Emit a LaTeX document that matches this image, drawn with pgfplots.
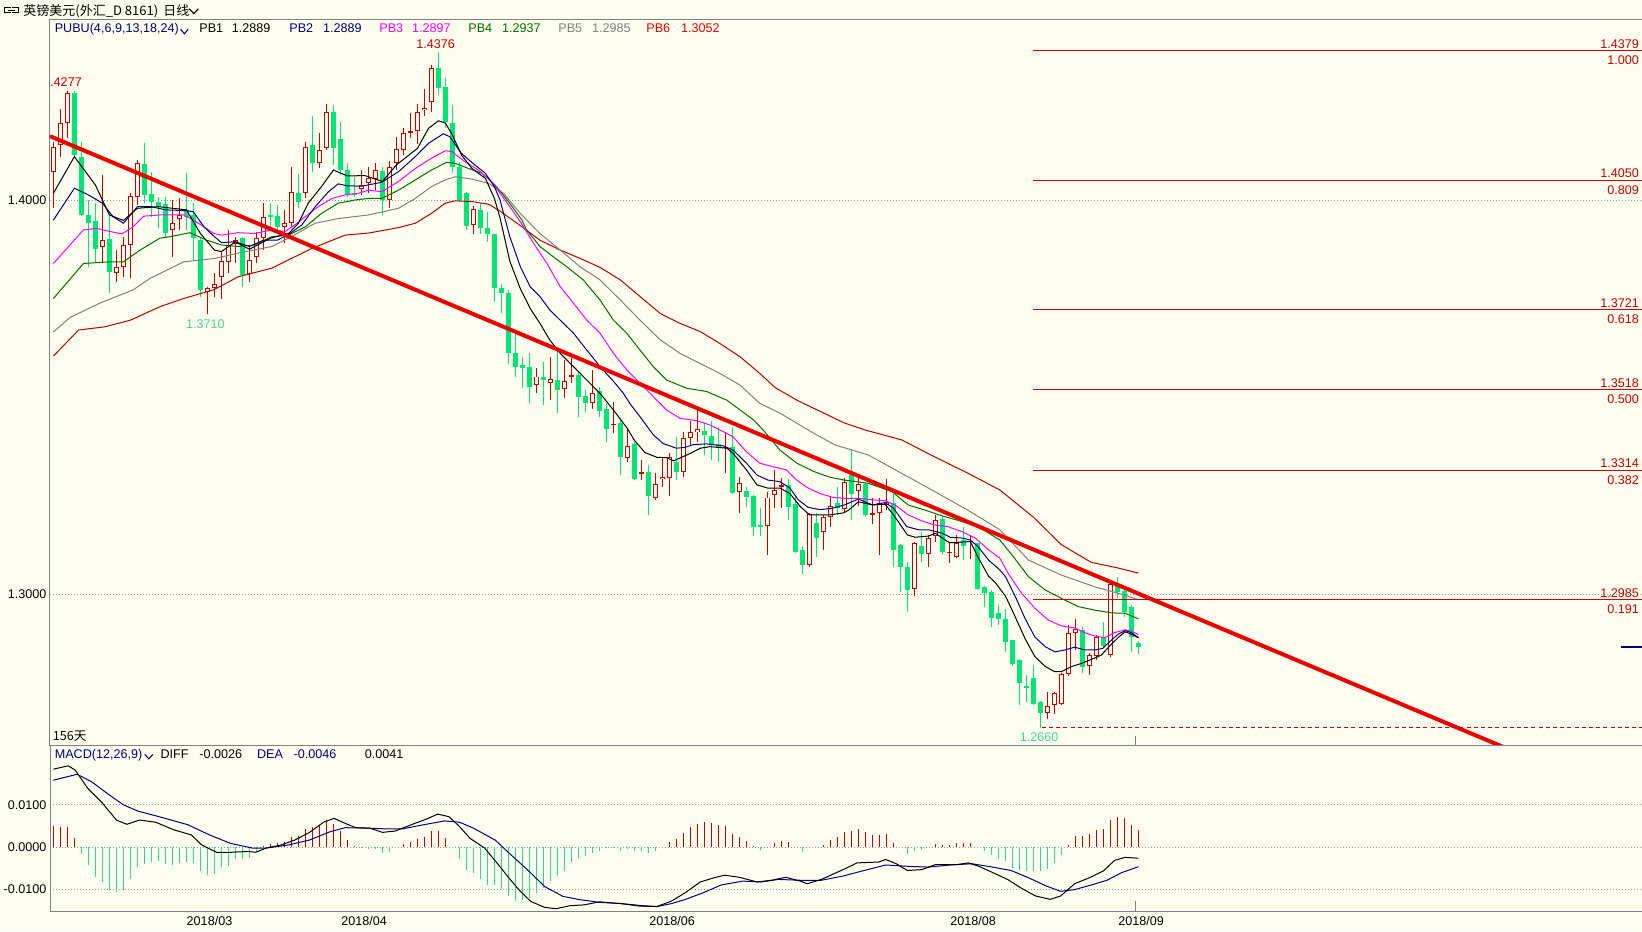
\documentclass[border=0pt]{standalone}
\usepackage{pgfplots}
\pgfplotsset{compat=1.18}
\usepackage{pgfplotstable}
\usepackage{fontspec}
\setmainfont{Liberation Sans}
\newfontfamily\cjk{Noto Sans CJK SC}
\definecolor{bg}{RGB}{255,255,240}
\definecolor{upred}{RGB}{200,0,0}
\definecolor{dngreen}{RGB}{0,230,118}
\definecolor{labgreen}{RGB}{70,215,150}
\definecolor{navyc}{RGB}{0,0,128}
\definecolor{magc}{RGB}{255,0,255}
\definecolor{pb4c}{RGB}{0,110,0}
\definecolor{pb5c}{RGB}{128,128,128}
\definecolor{pb6c}{RGB}{185,0,0}
\definecolor{trend}{RGB}{235,0,0}
\definecolor{fibc}{RGB}{200,0,0}
\definecolor{framec}{RGB}{130,130,130}
\definecolor{gridc}{RGB}{150,150,150}
\definecolor{histg}{RGB}{40,220,150}
\newcommand\fs{\fontsize{6.3pt}{7pt}\selectfont}

\pgfplotstableread{
i O H L C
0 1.4072 1.4148 1.3979 1.4135
1 1.4140 1.4230 1.4110 1.4195
2 1.4195 1.4277 1.4157 1.4271
7 1.3880 1.4063 1.3843 1.3898
9 1.3814 1.3873 1.3793 1.3831
10 1.3831 1.3907 1.3805 1.3886
11 1.3886 1.4017 1.3801 1.4010
12 1.4008 1.4102 1.3987 1.4093
17 1.3924 1.4000 1.3856 1.3942
18 1.3951 1.4004 1.3924 1.3962
22 1.3767 1.3780 1.3710 1.3776
23 1.3776 1.3814 1.3755 1.3788
24 1.3805 1.3869 1.3750 1.3845
25 1.3843 1.3924 1.3814 1.3886
26 1.3888 1.3907 1.3839 1.3898
28 1.3812 1.3882 1.3793 1.3848
29 1.3856 1.3920 1.3839 1.3903
30 1.3903 1.3992 1.3873 1.3958
33 1.3932 1.3975 1.3890 1.3942
34 1.3941 1.4085 1.3932 1.4021
36 1.4017 1.4148 1.4004 1.4135
38 1.4093 1.4169 1.4080 1.4127
39 1.4131 1.4243 1.4127 1.4224
44 1.4027 1.4076 1.4013 1.4038
45 1.4042 1.4085 1.4017 1.4055
46 1.4053 1.4093 1.4025 1.4076
48 1.4000 1.4099 1.3979 1.4085
49 1.4093 1.4161 1.4076 1.4129
50 1.4127 1.4184 1.4114 1.4171
51 1.4171 1.4220 1.4157 1.4175
52 1.4175 1.4243 1.4141 1.4223
53 1.4228 1.4283 1.4214 1.4234
54 1.4248 1.4343 1.4224 1.4334
60 1.3937 1.3985 1.3915 1.3976
69 1.3530 1.3573 1.3509 1.3552
71 1.3536 1.3602 1.3492 1.3545
73 1.3520 1.3594 1.3497 1.3541
74 1.3553 1.3598 1.3535 1.3556
77 1.3484 1.3569 1.3469 1.3511
80 1.3429 1.3488 1.3408 1.3432
82 1.3344 1.3420 1.3336 1.3376
84 1.3305 1.3340 1.3289 1.3310
86 1.3245 1.3306 1.3239 1.3279
87 1.3291 1.3344 1.3272 1.3298
88 1.3294 1.3359 1.3249 1.3349
90 1.3310 1.3412 1.3298 1.3395
91 1.3395 1.3440 1.3378 1.3410
92 1.3410 1.3467 1.3387 1.3418
96 1.3370 1.3412 1.3306 1.3374
98 1.3260 1.3296 1.3206 1.3281
102 1.3173 1.3260 1.3099 1.3245
103 1.3251 1.3315 1.3217 1.3264
104 1.3272 1.3294 1.3217 1.3276
108 1.3074 1.3205 1.3069 1.3203
110 1.3158 1.3201 1.3113 1.3195
111 1.3196 1.3247 1.3169 1.3223
113 1.3215 1.3294 1.3205 1.3285
115 1.3262 1.3300 1.3223 1.3279
117 1.3202 1.3243 1.3178 1.3205
118 1.3205 1.3243 1.3099 1.3232
119 1.3226 1.3291 1.3213 1.3234
123 1.3012 1.3133 1.2995 1.3130
125 1.3101 1.3150 1.3069 1.3143
126 1.3147 1.3201 1.3133 1.3188
128 1.3104 1.3133 1.3079 1.3107
129 1.3093 1.3150 1.3091 1.3129
131 1.3132 1.3147 1.3088 1.3135
142 1.2697 1.2752 1.2684 1.2716
143 1.2718 1.2752 1.2695 1.2748
144 1.2721 1.2799 1.2718 1.2797
145 1.2797 1.2921 1.2792 1.2900
146 1.2902 1.2936 1.2858 1.2910
148 1.2817 1.2851 1.2794 1.2845
149 1.2843 1.2896 1.2832 1.2890
151 1.2845 1.3036 1.2841 1.3025
}\upcandles

\pgfplotstableread{
i O H L C
3 1.4271 1.4276 1.4106 1.4114
4 1.4110 1.4148 1.3959 1.3962
5 1.3962 1.4000 1.3831 1.3941
6 1.3947 1.3992 1.3843 1.3877
8 1.3901 1.3966 1.3763 1.3816
13 1.4091 1.4144 1.3992 1.4013
14 1.4015 1.4072 1.3958 1.3996
15 1.3996 1.4008 1.3928 1.3983
16 1.3990 1.4008 1.3907 1.3915
19 1.3975 1.4068 1.3924 1.3958
20 1.3962 1.3992 1.3848 1.3903
21 1.3898 1.3903 1.3755 1.3772
27 1.3903 1.3907 1.3780 1.3810
31 1.3962 1.3993 1.3932 1.3958
32 1.3959 1.3987 1.3915 1.3932
35 1.4019 1.4065 1.3979 1.3996
37 1.4140 1.4212 1.4072 1.4093
40 1.4224 1.4241 1.4089 1.4131
41 1.4154 1.4199 1.4063 1.4076
42 1.4076 1.4093 1.4008 1.4013
43 1.4017 1.4059 1.4008 1.4013
47 1.4074 1.4085 1.3962 1.4000
55 1.4336 1.4376 1.4266 1.4285
56 1.4286 1.4309 1.4182 1.4199
57 1.4195 1.4241 1.4068 1.4085
58 1.4085 1.4097 1.3996 1.4000
59 1.4017 1.4021 1.3924 1.3935
61 1.3975 1.3992 1.3915 1.3928
62 1.3928 1.3970 1.3894 1.3913
63 1.3913 1.3915 1.3742 1.3777
64 1.3778 1.3788 1.3712 1.3763
65 1.3763 1.3772 1.3585 1.3611
66 1.3611 1.3662 1.3552 1.3577
67 1.3581 1.3602 1.3522 1.3573
68 1.3577 1.3611 1.3484 1.3525
70 1.3552 1.3590 1.3480 1.3543
72 1.3543 1.3619 1.3459 1.3518
75 1.3556 1.3564 1.3450 1.3501
76 1.3503 1.3518 1.3463 1.3486
78 1.3516 1.3526 1.3450 1.3464
79 1.3470 1.3484 1.3387 1.3419
81 1.3435 1.3442 1.3302 1.3347
83 1.3381 1.3387 1.3289 1.3291
85 1.3310 1.3327 1.3200 1.3250
89 1.3336 1.3399 1.3289 1.3310
93 1.3414 1.3435 1.3353 1.3404
94 1.3401 1.3440 1.3340 1.3378
95 1.3381 1.3425 1.3336 1.3370
97 1.3374 1.3425 1.3254 1.3257
99 1.3262 1.3271 1.3222 1.3245
100 1.3249 1.3251 1.3147 1.3171
101 1.3175 1.3217 1.3146 1.3171
105 1.3277 1.3291 1.3188 1.3222
106 1.3228 1.3247 1.3105 1.3107
107 1.3112 1.3122 1.3051 1.3074
109 1.3179 1.3206 1.3095 1.3141
112 1.3232 1.3272 1.3201 1.3217
114 1.3302 1.3365 1.3188 1.3255
116 1.3279 1.3285 1.3195 1.3201
120 1.3230 1.3255 1.3069 1.3113
121 1.3124 1.3127 1.3006 1.3069
122 1.3069 1.3082 1.2955 1.3010
124 1.3122 1.3158 1.3082 1.3101
127 1.3190 1.3198 1.3101 1.3107
130 1.3137 1.3171 1.3086 1.3122
132 1.3129 1.3130 1.3010 1.3014
133 1.3017 1.3020 1.2968 1.3002
134 1.3006 1.3010 1.2917 1.2938
135 1.2951 1.2972 1.2921 1.2936
136 1.2936 1.2961 1.2854 1.2879
137 1.2883 1.2884 1.2817 1.2822
138 1.2832 1.2836 1.2718 1.2773
139 1.2766 1.2794 1.2727 1.2763
140 1.2786 1.2820 1.2718 1.2721
141 1.2727 1.2728 1.2660 1.2697
147 1.2909 1.2917 1.2799 1.2816
150 1.2892 1.2930 1.2866 1.2868
152 1.3020 1.3044 1.2989 1.3006
153 1.3008 1.3012 1.2942 1.2955
154 1.2968 1.2972 1.2854 1.2892
155 1.2875 1.2880 1.2849 1.2866
}\downcandles

\pgfplotstableread{
i v
0 0.0050
1 0.0047
2 0.0047
3 0.0021
4 -0.0016
5 -0.0043
6 -0.0071
7 -0.0081
8 -0.0101
9 -0.0105
10 -0.0101
11 -0.0076
12 -0.0047
13 -0.0040
14 -0.0035
15 -0.0033
16 -0.0039
17 -0.0041
18 -0.0037
19 -0.0035
20 -0.0037
21 -0.0057
22 -0.0066
23 -0.0064
24 -0.0047
25 -0.0045
26 -0.0029
27 -0.0029
28 -0.0026
29 -0.0012
30 0.0002
31 0.0007
32 0.0010
33 0.0012
34 0.0023
35 0.0027
36 0.0043
37 0.0048
38 0.0050
39 0.0064
40 0.0054
41 0.0038
42 0.0017
43 0.0002
44 -0.0002
45 -0.0004
46 -0.0005
47 -0.0014
48 -0.0012
49 0.0000
50 0.0008
51 0.0013
52 0.0019
53 0.0025
54 0.0038
55 0.0038
56 0.0021
57 0.0000
58 -0.0029
59 -0.0053
60 -0.0060
61 -0.0076
62 -0.0088
63 -0.0088
64 -0.0099
65 -0.0115
66 -0.0126
67 -0.0125
68 -0.0120
69 -0.0109
70 -0.0097
71 -0.0080
72 -0.0068
73 -0.0057
74 -0.0035
75 -0.0026
76 -0.0020
77 -0.0014
78 -0.0009
79 -0.0003
80 -0.0001
81 -0.0009
82 -0.0004
83 -0.0010
84 -0.0009
85 -0.0014
86 -0.0009
87 0.0000
88 0.0013
89 0.0020
90 0.0034
91 0.0048
92 0.0055
93 0.0060
94 0.0057
95 0.0053
96 0.0050
97 0.0032
98 0.0024
99 0.0015
100 0.0002
101 -0.0006
102 0.0000
103 0.0009
104 0.0014
105 0.0013
106 0.0000
107 -0.0012
108 0.0000
109 0.0000
110 0.0005
111 0.0017
112 0.0024
113 0.0036
114 0.0038
115 0.0043
116 0.0036
117 0.0029
118 0.0029
119 0.0030
120 0.0010
121 0.0000
122 -0.0016
123 -0.0010
124 -0.0007
125 0.0000
126 0.0008
127 0.0005
128 0.0006
129 0.0009
130 0.0009
131 0.0011
132 0.0000
133 -0.0009
134 -0.0019
135 -0.0027
136 -0.0033
137 -0.0048
138 -0.0053
139 -0.0056
140 -0.0057
141 -0.0056
142 -0.0051
143 -0.0038
144 -0.0019
145 0.0005
146 0.0027
147 0.0027
148 0.0032
149 0.0041
150 0.0043
151 0.0064
152 0.0071
153 0.0070
154 0.0052
155 0.0040
}\hist

\begin{document}
\begin{tikzpicture}
\fill[bg] (0,0) rectangle (821pt,465.5pt);
\useasboundingbox (0,0) rectangle (821pt,465.5pt);

%================ main panel
\begin{axis}[
  at={(25pt,92.7pt)}, anchor=south west,
  width=796pt, height=362.8pt, scale only axis,
  xmin=-0.486, xmax=226.94, ymin=1.26152, ymax=1.44569,
  scaled x ticks=false, scaled y ticks=false,
  axis line style={framec, line width=0.5pt},
  xtick=\empty,
  ytick={1.3,1.4}, yticklabels={1.3000,1.4000},
  major tick length=0pt,
  yticklabel style={font=\fs, anchor=east, inner sep=0pt, xshift=-1.6pt},
  ymajorgrids, grid style={gridc, dash pattern=on 0.5pt off 1pt, line width=0.45pt},
  font=\fs,
]
% up candles: wicks, bodies, hollow interiors
\addplot[draw=none, mark=none, forget plot, error bars/.cd, y dir=both, y explicit, error mark=none,
  error bar style={draw=upred, line width=0.5pt}]
  table[x=i, y expr={(\thisrow{H}+\thisrow{L})/2}, y error expr={(\thisrow{H}-\thisrow{L})/2}] {\upcandles};
\addplot[draw=none, mark=none, forget plot, error bars/.cd, y dir=both, y explicit, error mark=none,
  error bar style={draw=upred, line width=2.5pt}]
  table[x=i, y expr={(\thisrow{O}+\thisrow{C})/2}, y error expr={abs(\thisrow{C}-\thisrow{O})/2}] {\upcandles};
\addplot[draw=none, mark=none, forget plot, error bars/.cd, y dir=both, y explicit, error mark=none,
  error bar style={draw=bg, line width=1.5pt}]
  table[x=i, y expr={(\thisrow{O}+\thisrow{C})/2}, y error expr={max(abs(\thisrow{C}-\thisrow{O})/2-0.00025,0)}] {\upcandles};
% down candles
\addplot[draw=none, mark=none, forget plot, error bars/.cd, y dir=both, y explicit, error mark=none,
  error bar style={draw=dngreen, line width=0.5pt}]
  table[x=i, y expr={(\thisrow{H}+\thisrow{L})/2}, y error expr={(\thisrow{H}-\thisrow{L})/2}] {\downcandles};
\addplot[draw=none, mark=none, forget plot, error bars/.cd, y dir=both, y explicit, error mark=none,
  error bar style={draw=dngreen, line width=2.5pt}]
  table[x=i, y expr={(\thisrow{O}+\thisrow{C})/2}, y error expr={abs(\thisrow{C}-\thisrow{O})/2}] {\downcandles};

% PUBU lines
\addplot[pb6c, line width=0.5pt, sharp plot] coordinates {(0,1.3604)(3.6,1.3670)(7.3,1.3678)(11,1.3695)(15.2,1.3729)(18.6,1.3750)(22.9,1.3772)(26.4,1.3805)(31.2,1.3827)(34.5,1.3856)(36.9,1.3877)(39.3,1.3894)(41.7,1.3911)(45,1.3916)(49.3,1.3930)(51.7,1.3941)(54,1.3966)(56,1.3992)(57.4,1.3998)(59.8,1.3996)(62.2,1.3989)(63.8,1.3972)(66.7,1.3935)(69.5,1.3898)(72.4,1.3873)(75.2,1.3852)(78.1,1.3829)(81,1.3797)(83.8,1.3755)(86.7,1.3712)(89.5,1.3687)(92.4,1.3666)(95.2,1.3636)(98.1,1.3602)(100.9,1.3560)(103.1,1.3524)(106.2,1.3492)(113,1.3434)(116,1.3416)(121.2,1.3391)(125.9,1.3348)(130.6,1.3307)(135.2,1.3264)(140,1.3195)(144,1.3125)(148.3,1.3080)(152.1,1.3066)(155,1.3053)};
\addplot[pb5c, line width=0.5pt, sharp plot] coordinates {(0,1.3665)(2.4,1.3702)(6.6,1.3738)(11.4,1.3772)(13.8,1.3801)(18.6,1.3843)(23.1,1.3852)(26.4,1.3865)(31.2,1.3882)(34,1.3907)(37.4,1.3941)(40.7,1.3953)(45,1.3962)(49.3,1.3979)(51.7,1.4004)(54,1.4034)(56,1.4051)(57.4,1.4059)(59.8,1.4053)(62.2,1.4042)(64.3,1.4017)(66.7,1.3966)(69.5,1.3915)(72.4,1.3873)(75.2,1.3831)(78.1,1.3797)(81,1.3746)(83.8,1.3695)(86.7,1.3645)(89.5,1.3611)(92.4,1.3585)(95.2,1.3560)(98.1,1.3530)(100.9,1.3484)(103.8,1.3459)(108.6,1.3408)(111.7,1.3378)(116.4,1.3353)(121.2,1.3306)(125.9,1.3260)(130.6,1.3213)(135.2,1.3163)(139.3,1.3086)(144,1.3048)(148.8,1.3018)(152.1,1.3002)(155,1.2986)};
\addplot[pb4c, line width=0.5pt, sharp plot] coordinates {(0,1.3750)(4.3,1.3839)(8.1,1.3843)(10,1.3843)(12.4,1.3873)(15.2,1.3903)(16.7,1.3907)(19.5,1.3917)(21.9,1.3898)(24,1.3886)(26.4,1.3882)(28.8,1.3886)(31.2,1.3907)(33.6,1.3911)(36,1.3932)(38.3,1.3966)(40.7,1.3992)(43.1,1.4000)(45,1.4004)(46.9,1.4004)(49.3,1.4025)(51.7,1.4051)(54,1.4076)(56.2,1.4096)(57.4,1.4093)(59.3,1.4080)(61.2,1.4068)(63.1,1.4038)(65,1.3996)(66.9,1.3950)(67.6,1.3924)(69.5,1.3882)(71.4,1.3856)(73.3,1.3831)(75.7,1.3797)(78.1,1.3746)(80,1.3695)(81.9,1.3662)(83.8,1.3619)(85.7,1.3577)(87.6,1.3543)(90.5,1.3522)(93.3,1.3514)(96.2,1.3492)(98.1,1.3467)(100,1.3442)(101.4,1.3416)(103.8,1.3365)(106.2,1.3332)(108.6,1.3311)(111,1.3296)(113,1.3289)(116.4,1.3281)(119.8,1.3260)(122.1,1.3226)(124.5,1.3213)(127,1.3198)(129.8,1.3184)(132.1,1.3171)(135.2,1.3137)(136.9,1.3100)(139.3,1.3044)(141.7,1.3010)(144,1.2989)(146.4,1.2968)(148.8,1.2959)(151.2,1.2952)(153.1,1.2951)(155,1.2937)};
\addplot[magc, line width=0.5pt, sharp plot] coordinates {(0,1.3839)(4.3,1.3924)(6.2,1.3928)(8.1,1.3920)(9.8,1.3914)(11.4,1.3932)(12.9,1.3959)(15.2,1.3962)(18.6,1.3962)(20,1.3949)(21.5,1.3932)(22.9,1.3915)(24,1.3911)(26.4,1.3917)(28.8,1.3915)(31.2,1.3924)(33.1,1.3920)(34.5,1.3937)(36,1.3958)(37.8,1.3983)(39.8,1.4004)(41.7,1.4013)(43.6,1.4017)(45,1.4025)(46.9,1.4021)(49.3,1.4047)(51.7,1.4080)(54,1.4106)(56,1.4125)(56.9,1.4123)(58.8,1.4097)(60.7,1.4076)(62.6,1.4047)(64.5,1.4000)(65.2,1.3983)(66.7,1.3945)(68.6,1.3890)(70.5,1.3839)(72.4,1.3780)(74.3,1.3738)(76.2,1.3695)(78.1,1.3662)(80,1.3611)(81.9,1.3569)(83.8,1.3535)(85.7,1.3501)(87.6,1.3467)(89.5,1.3446)(91.9,1.3440)(93.8,1.3429)(95.7,1.3412)(97.1,1.3399)(99,1.3361)(100.9,1.3332)(102.8,1.3323)(104.7,1.3315)(106.2,1.3289)(107.6,1.3271)(109.5,1.3255)(111.4,1.3245)(113,1.3243)(115,1.3243)(117,1.3239)(118.8,1.3237)(120.2,1.3226)(122.1,1.3201)(124,1.3186)(125.9,1.3175)(127.8,1.3171)(129.8,1.3158)(131.7,1.3142)(133.6,1.3112)(135.2,1.3091)(136.4,1.3052)(138.3,1.3002)(140.2,1.2964)(142.1,1.2934)(144,1.2919)(145.9,1.2914)(147.3,1.2902)(148.8,1.2893)(150.2,1.2889)(151.6,1.2902)(153.1,1.2909)(154,1.2906)(155,1.2897)};
\addplot[navyc, line width=0.5pt, sharp plot] coordinates {(0,1.3949)(3,1.4030)(5,1.4013)(7,1.3992)(8.5,1.3958)(10,1.3941)(11.2,1.3966)(12,1.3983)(14,1.3983)(16,1.3975)(19,1.3973)(20,1.3970)(21.5,1.3932)(23,1.3907)(24,1.3892)(26,1.3894)(28,1.3882)(30,1.3898)(32,1.3898)(33.8,1.3915)(35.5,1.3937)(37.4,1.3983)(39.3,1.4021)(40.7,1.4041)(42,1.4036)(44,1.4035)(46.9,1.4045)(49.3,1.4072)(51.7,1.4110)(53.6,1.4144)(55.7,1.4168)(56.6,1.4161)(58.3,1.4118)(60.2,1.4089)(61.7,1.4068)(63,1.4034)(63.8,1.4000)(65.2,1.3907)(66.7,1.3831)(68.1,1.3780)(69.5,1.3755)(70.9,1.3721)(72.4,1.3695)(74.3,1.3662)(76.2,1.3619)(78.1,1.3577)(80,1.3540)(81.4,1.3510)(82.4,1.3482)(83.8,1.3450)(85.7,1.3404)(87.1,1.3382)(89,1.3370)(90.2,1.3372)(91.4,1.3379)(93.3,1.3381)(95.7,1.3376)(97.1,1.3365)(99,1.3332)(100.5,1.3302)(102.1,1.3289)(103.8,1.3285)(105.2,1.3269)(106.4,1.3239)(107.8,1.3220)(109.5,1.3214)(111.4,1.3218)(113,1.3226)(115,1.3241)(117,1.3226)(118.8,1.3232)(120,1.3218)(121.9,1.3171)(123.6,1.3163)(125,1.3163)(127,1.3154)(128.1,1.3144)(129.8,1.3142)(131,1.3137)(132.1,1.3120)(133.6,1.3086)(135.2,1.3061)(136,1.3044)(137.4,1.2994)(138.8,1.2938)(140.2,1.2891)(141.7,1.2866)(143.1,1.2853)(144.5,1.2858)(145.9,1.2865)(147.3,1.2858)(148.8,1.2858)(149.9,1.2862)(150.9,1.2879)(152.1,1.2898)(153.1,1.2907)(154,1.2902)(155,1.2889)};
\addplot[black, line width=0.5pt, sharp plot] coordinates {(0,1.4017)(3,1.4110)(6,1.4038)(8,1.3962)(10,1.3948)(12,1.3979)(15,1.3983)(19,1.3975)(21,1.3915)(23,1.3873)(24,1.3869)(26,1.3894)(28,1.3875)(31,1.3903)(33.6,1.3915)(35,1.3941)(36.4,1.3992)(38.3,1.4034)(40,1.4076)(42,1.4061)(44.5,1.4062)(47,1.4047)(49,1.4089)(52,1.4131)(53.6,1.4182)(55,1.4201)(56,1.4195)(57,1.4165)(58.3,1.4114)(59.8,1.4080)(61.7,1.4055)(63,1.4004)(63.8,1.3955)(65.2,1.3845)(66.7,1.3775)(68.1,1.3725)(69.5,1.3687)(70.9,1.3645)(72.4,1.3611)(74.3,1.3577)(76.2,1.3543)(78.1,1.3509)(80,1.3467)(82,1.3420)(83,1.3390)(84.5,1.3359)(86.2,1.3347)(87.6,1.3346)(88.6,1.3338)(90,1.3349)(91,1.3357)(92.4,1.3370)(93.8,1.3374)(96.2,1.3370)(97.1,1.3357)(99,1.3315)(100.5,1.3277)(102,1.3269)(103.8,1.3269)(105.2,1.3255)(106.7,1.3222)(108,1.3201)(111,1.3201)(112.9,1.3206)(113.6,1.3213)(115,1.3234)(117,1.3226)(118.8,1.3228)(120,1.3201)(122,1.3150)(123.1,1.3144)(125,1.3147)(126,1.3154)(127,1.3142)(128,1.3130)(131,1.3133)(132,1.3096)(133.6,1.3045)(134.5,1.3030)(136,1.2995)(137.4,1.2942)(138.8,1.2887)(140.2,1.2841)(141.7,1.2816)(143,1.2803)(144,1.2803)(145.5,1.2816)(146.9,1.2824)(148.3,1.2834)(149.7,1.2845)(151,1.2870)(152.2,1.2891)(153.1,1.2904)(154,1.2898)(155,1.2889)};

% trend line
\addplot[trend, line width=2pt] coordinates {(-0.49,1.4162)(226.9,1.2464)};

% fibonacci levels
\addplot[fibc, line width=0.5pt] coordinates {(140,1.4379)(226.94,1.4379)};
\addplot[fibc, line width=0.5pt] coordinates {(140,1.4050)(226.94,1.4050)};
\addplot[fibc, line width=0.5pt] coordinates {(140,1.3721)(226.94,1.3721)};
\addplot[fibc, line width=0.5pt] coordinates {(140,1.3518)(226.94,1.3518)};
\addplot[fibc, line width=0.5pt] coordinates {(140,1.3314)(226.94,1.3314)};
\addplot[fibc, line width=0.5pt] coordinates {(140,1.2985)(226.94,1.2985)};
\addplot[fibc, line width=0.5pt, dash pattern=on 2pt off 1.6pt] coordinates {(141.2,1.2660)(226.94,1.2660)};
\addplot[navyc, line width=0.8pt] coordinates {(224,1.2866)(226.94,1.2866)};

\begin{scope}[every node/.style={font=\fs, text=fibc}]
\node[anchor=south east, inner sep=0pt, yshift=0.9pt] at (axis cs:226.55,1.4379) {1.4379};
\node[anchor=north east, inner sep=0pt, yshift=-2.3pt] at (axis cs:226.55,1.4379) {1.000};
\node[anchor=south east, inner sep=0pt, yshift=0.9pt] at (axis cs:226.55,1.4050) {1.4050};
\node[anchor=north east, inner sep=0pt, yshift=-2.3pt] at (axis cs:226.55,1.4050) {0.809};
\node[anchor=south east, inner sep=0pt, yshift=0.9pt] at (axis cs:226.55,1.3721) {1.3721};
\node[anchor=north east, inner sep=0pt, yshift=-2.3pt] at (axis cs:226.55,1.3721) {0.618};
\node[anchor=south east, inner sep=0pt, yshift=0.9pt] at (axis cs:226.55,1.3518) {1.3518};
\node[anchor=north east, inner sep=0pt, yshift=-2.3pt] at (axis cs:226.55,1.3518) {0.500};
\node[anchor=south east, inner sep=0pt, yshift=0.9pt] at (axis cs:226.55,1.3314) {1.3314};
\node[anchor=north east, inner sep=0pt, yshift=-2.3pt] at (axis cs:226.55,1.3314) {0.382};
\node[anchor=south east, inner sep=0pt, yshift=0.9pt] at (axis cs:226.55,1.2985) {1.2985};
\node[anchor=north east, inner sep=0pt, yshift=-2.3pt] at (axis cs:226.55,1.2985) {0.191};
\end{scope}
\node[font=\fs, inner sep=0pt, text=upred] at (axis cs:54.6,1.4396) {1.4376};
\begin{scope}
\clip (rel axis cs:0,0) rectangle (rel axis cs:1,1);
\node[font=\fs, inner sep=0pt, text=upred] at (axis cs:1.3,1.4300) {1.4277};
\end{scope}
\node[font=\fs, inner sep=0pt, text=labgreen] at (axis cs:21.7,1.3686) {1.3710};
\node[font=\fs, inner sep=0pt, text=labgreen] at (axis cs:140.8,1.26365) {1.2660};
\draw[framec, line width=0.5pt] (axis cs:154.6,1.26152) -- (axis cs:154.6,1.2639);
\end{axis}

%================ MACD panel
\begin{axis}[
  at={(25pt,10pt)}, anchor=south west,
  width=796pt, height=82.7pt, scale only axis,
  xmin=-0.486, xmax=226.94, ymin=-0.015047, ymax=0.023962,
  scaled x ticks=false, scaled y ticks=false,
  axis line style={framec, line width=0.5pt},
  xtick={22.3,44.4,88.4,131.4,155.4},
  xticklabels={2018/03,2018/04,2018/06,2018/08,2018/09},
  xticklabel style={font=\fs, anchor=north, inner sep=0pt, yshift=-2.6pt},
  ytick={-0.01,0,0.01}, yticklabels={-0.0100,0.0000,0.0100},
  yticklabel style={font=\fs, anchor=east, inner sep=0pt, xshift=-1.6pt},
  major tick length=0pt,
  ymajorgrids, grid style={gridc, dash pattern=on 0.5pt off 1pt, line width=0.45pt},
  font=\fs,
]
\addplot[ycomb, upred, line width=0.5pt, mark=none, restrict y to domain=0:1] table[x=i, y=v] {\hist};
\addplot[ycomb, histg, line width=0.5pt, mark=none, restrict y to domain=-1:0] table[x=i, y=v] {\hist};
\addplot[navyc, line width=0.5pt, sharp plot] coordinates {(0,0.0158)(3.4,0.0172)(5.4,0.0155)(8,0.0123)(10,0.0100)(12.1,0.0085)(15.1,0.0072)(19.2,0.0053)(22.3,0.0029)(25.3,0.0009)(28.4,-0.0002)(30.4,-0.0002)(33.5,0.0005)(36.6,0.0017)(39.6,0.0037)(41.7,0.0046)(44.7,0.0045)(47.8,0.0043)(49.8,0.0043)(52.9,0.0053)(55.9,0.0062)(58,0.0059)(60,0.0045)(63.1,0.0017)(65.1,-0.0014)(67.7,-0.0053)(70.2,-0.0093)(72.8,-0.0116)(75.3,-0.0124)(78,-0.0130)(81.1,-0.0133)(83.7,-0.0139)(86.2,-0.0140)(88.3,-0.0133)(90.3,-0.0123)(92.9,-0.0107)(95.4,-0.0089)(98.5,-0.0080)(101.1,-0.0082)(103.6,-0.0076)(106.7,-0.0078)(109.7,-0.0078)(112.8,-0.0068)(115.8,-0.0055)(118.9,-0.0042)(122,-0.0045)(125,-0.0047)(128.1,-0.0042)(131.2,-0.0039)(134.2,-0.0047)(136.8,-0.0055)(139.3,-0.0072)(141.9,-0.0092)(143.9,-0.0104)(145.9,-0.0100)(148.5,-0.0088)(150.5,-0.0078)(152.6,-0.0060)(155,-0.0046)};
\addplot[black, line width=0.5pt, sharp plot] coordinates {(0,0.0184)(2.1,0.0192)(3.1,0.0182)(4.9,0.0139)(7,0.0104)(9,0.0064)(10.5,0.0054)(12.3,0.0064)(14.6,0.0059)(17.2,0.0041)(19.7,0.0029)(21.2,0.0005)(23.3,-0.0012)(25.3,-0.0012)(27.9,-0.0010)(28.9,-0.0012)(30.4,-0.0002)(32.5,0.0005)(34.5,0.0017)(36.6,0.0035)(38.6,0.0059)(40.1,0.0068)(41.7,0.0056)(43.2,0.0046)(45.2,0.0045)(47,0.0035)(48.8,0.0038)(51.3,0.0054)(53.4,0.0067)(54.9,0.0078)(56.5,0.0072)(58,0.0049)(59.5,0.0021)(61.6,-0.0002)(63.6,-0.0042)(65.1,-0.0073)(66.7,-0.0104)(68.2,-0.0128)(70.2,-0.0142)(71.8,-0.0145)(73.8,-0.0138)(75.8,-0.0136)(78,-0.0129)(81.1,-0.0133)(84.2,-0.0138)(86.2,-0.0140)(88.3,-0.0127)(90.3,-0.0107)(92.4,-0.0082)(94.4,-0.0072)(95.9,-0.0066)(98,-0.0071)(100.5,-0.0082)(102.6,-0.0078)(104.6,-0.0071)(106.7,-0.0080)(107.7,-0.0086)(109.7,-0.0076)(112.8,-0.0053)(114.8,-0.0037)(117.9,-0.0035)(118.9,-0.0029)(120.4,-0.0039)(122,-0.0055)(124,-0.0053)(126,-0.0041)(129.1,-0.0041)(130.7,-0.0037)(132.2,-0.0045)(134.2,-0.0060)(136.3,-0.0076)(138.3,-0.0097)(140.3,-0.0115)(142.4,-0.0123)(143.9,-0.0115)(145.9,-0.0086)(148,-0.0072)(150,-0.0056)(151.6,-0.0031)(153.1,-0.0024)(155,-0.0026)};
\draw[framec, line width=0.5pt] (axis cs:154.6,-0.015047) -- (axis cs:154.6,-0.0128);
\end{axis}

%================ texts outside the plot areas
% title bar
\draw[black, line width=0.5pt] (5.3pt,461.5pt) -- (2pt,461.5pt) -- (2pt,459pt) -- (5.3pt,459pt);
\draw[black, line width=0.5pt] (5.9pt,461.5pt) -- (9.2pt,461.5pt) -- (9.2pt,459pt) -- (5.9pt,459pt);
\draw[black, line width=0.5pt] (3.8pt,460.25pt) -- (7.4pt,460.25pt);
\node[anchor=base west, inner sep=0pt, font=\fontsize{6.5pt}{7pt}\selectfont\cjk] at (11.5pt,457.8pt) {英镑美元(外汇\_D 8161)};
\node[anchor=base west, inner sep=0pt, font=\fontsize{6.5pt}{7pt}\selectfont\cjk] at (81.5pt,457.8pt) {日线};
\draw[black, line width=0.55pt] (94.6pt,461.1pt) -- (96.9pt,458.7pt) -- (99.2pt,461.1pt);

% PUBU legend row
\begin{scope}[every node/.style={anchor=base west, inner sep=0pt, font=\fs}]
\node[text=navyc] at (27.2pt,449.1pt) {PUBU(4,6,9,13,18,24)};
\node[text=black] at (99.5pt,449.1pt) {PB1};
\node[text=black] at (115.7pt,449.1pt) {1.2889};
\node[text=navyc] at (144.5pt,449.1pt) {PB2};
\node[text=navyc] at (161.3pt,449.1pt) {1.2889};
\node[text=magc] at (189.5pt,449.1pt) {PB3};
\node[text=magc] at (205.8pt,449.1pt) {1.2897};
\node[text=pb4c] at (234pt,449.1pt) {PB4};
\node[text=pb4c] at (250.8pt,449.1pt) {1.2937};
\node[text=pb5c] at (279pt,449.1pt) {PB5};
\node[text=pb5c] at (295.8pt,449.1pt) {1.2985};
\node[text=trend] at (323pt,449.1pt) {PB6};
\node[text=trend] at (340.3pt,449.1pt) {1.3052};
% MACD legend row
\node[text=navyc] at (27.2pt,86.3pt) {MACD(12,26,9)};
\node[text=black] at (80.1pt,86.3pt) {DIFF};
\node[text=black] at (99.5pt,86.3pt) {-0.0026};
\node[text=navyc] at (128.3pt,86.3pt) {DEA};
\node[text=navyc] at (146.6pt,86.3pt) {-0.0046};
\node[text=black] at (182.2pt,86.3pt) {0.0041};
\node[text=black, font=\fs\cjk] at (26.2pt,95.2pt) {156天};
\end{scope}
\draw[navyc, line width=0.55pt] (90.3pt,450.9pt) -- (92.2pt,448.6pt) -- (94.1pt,450.9pt);
\draw[navyc, line width=0.55pt] (72.4pt,88.3pt) -- (74.4pt,86.1pt) -- (76.4pt,88.3pt);
\end{tikzpicture}
\end{document}
